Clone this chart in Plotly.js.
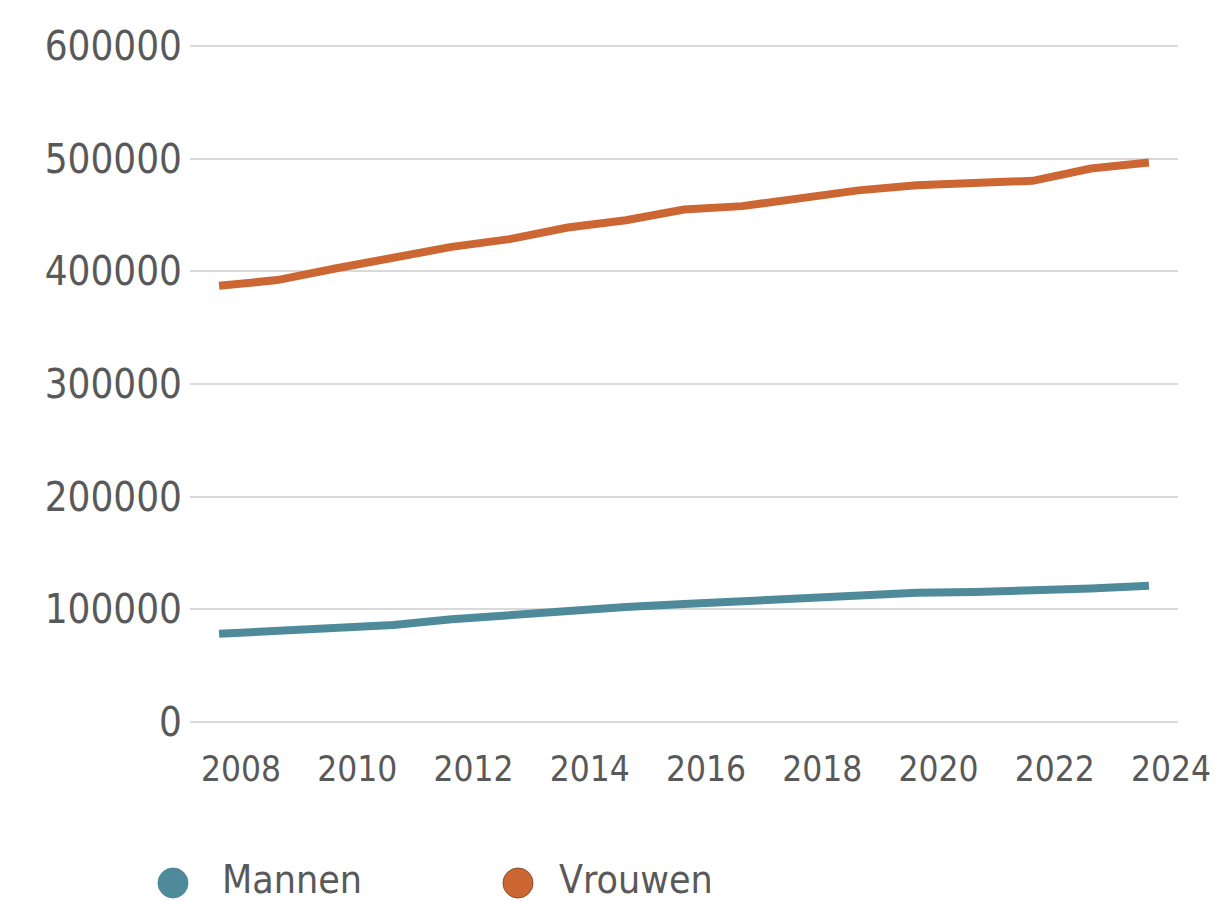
<!DOCTYPE html>
<html>
<head>
<meta charset="utf-8">
<script src="https://cdn.plot.ly/plotly-3.0.1.min.js"></script>
<style>
  html, body { margin: 0; padding: 0; background: #ffffff; }
  #chart { width: 1215px; height: 902px; }
</style>
</head>
<body>
<div id="chart"></div>
<script>
const years = ['2008','2009','2010','2011','2012','2013','2014','2015','2016','2017','2018','2019','2020','2021','2022','2023','2024'];
const tickYears = ['2008','2010','2012','2014','2016','2018','2020','2022','2024'];
const mannen = [78100, 80500, 83500, 86000, 91000, 95000, 99400, 102000, 104500, 107000, 110000, 112500, 114600, 115300, 116000, 118400, 120700];
const vrouwen = [387200, 392300, 402600, 411500, 421800, 428700, 439000, 445500, 455000, 458000, 464700, 472000, 476600, 478700, 480500, 491400, 496700];
const seriesNames = ['Mannen', 'Vrouwen'];
const colors = ['#4f8a9b', '#cc6633'];

const FONT = '"DejaVu Sans Condensed", "DejaVu Sans", Verdana, sans-serif';
const GREY = '#595959';

const traces = [
  { x: years, y: mannen, name: seriesNames[0], type: 'scatter', mode: 'lines',
    line: { color: colors[0], width: 8 }, showlegend: false, hoverinfo: 'x+y+name' },
  { x: years, y: vrouwen, name: seriesNames[1], type: 'scatter', mode: 'lines',
    line: { color: colors[1], width: 8 }, showlegend: false, hoverinfo: 'x+y+name' }
];

const legendX = [ -17, 328 ];
const legendTextX = [ 30, 367 ];
const shapes = seriesNames.map((n, i) => ({
  type: 'circle', xref: 'paper', yref: 'paper',
  xsizemode: 'pixel', ysizemode: 'pixel', xanchor: 0, yanchor: 0,
  x0: legendX[i] - 15, x1: legendX[i] + 15, y0: -174, y1: -144,
  fillcolor: colors[i], line: { color: i === 1 ? '#8a4a2a' : colors[i], width: 1 }
}));
const annotations = seriesNames.map((n, i) => ({
  text: n, xref: 'paper', yref: 'paper', x: 0, y: 0,
  xshift: legendTextX[i], yshift: -155, xanchor: 'left', yanchor: 'middle',
  showarrow: false, font: { family: FONT, size: 39, color: GREY }
}));

const layout = {
  width: 1215, height: 902,
  margin: { l: 190, r: 37, t: 44, b: 178 },
  paper_bgcolor: '#ffffff', plot_bgcolor: '#ffffff',
  showlegend: false,
  font: { family: FONT, color: GREY },
  xaxis: {
    type: 'category', range: [-0.5, 16.5],
    tickmode: 'array', tickvals: tickYears, ticktext: tickYears,
    ticks: 'outside', ticklen: 14, tickcolor: 'rgba(0,0,0,0)',
    ticklabelshift: 22,
    tickfont: { family: FONT, size: 35, color: GREY },
    showgrid: false, zeroline: false, showline: false, fixedrange: true
  },
  yaxis: {
    range: [-2000, 602000], tickmode: 'linear', tick0: 0, dtick: 100000,
    tickformat: 'd',
    ticks: '', ticklabelstandoff: 7,
    tickfont: { family: FONT, size: 40, color: GREY },
    showgrid: true, gridcolor: '#d9d9d9', gridwidth: 2,
    zeroline: false, showline: false, fixedrange: true
  },
  shapes: shapes,
  annotations: annotations
};

Plotly.newPlot('chart', traces, layout, { displayModeBar: false, staticPlot: true });
</script>
</body>
</html>
